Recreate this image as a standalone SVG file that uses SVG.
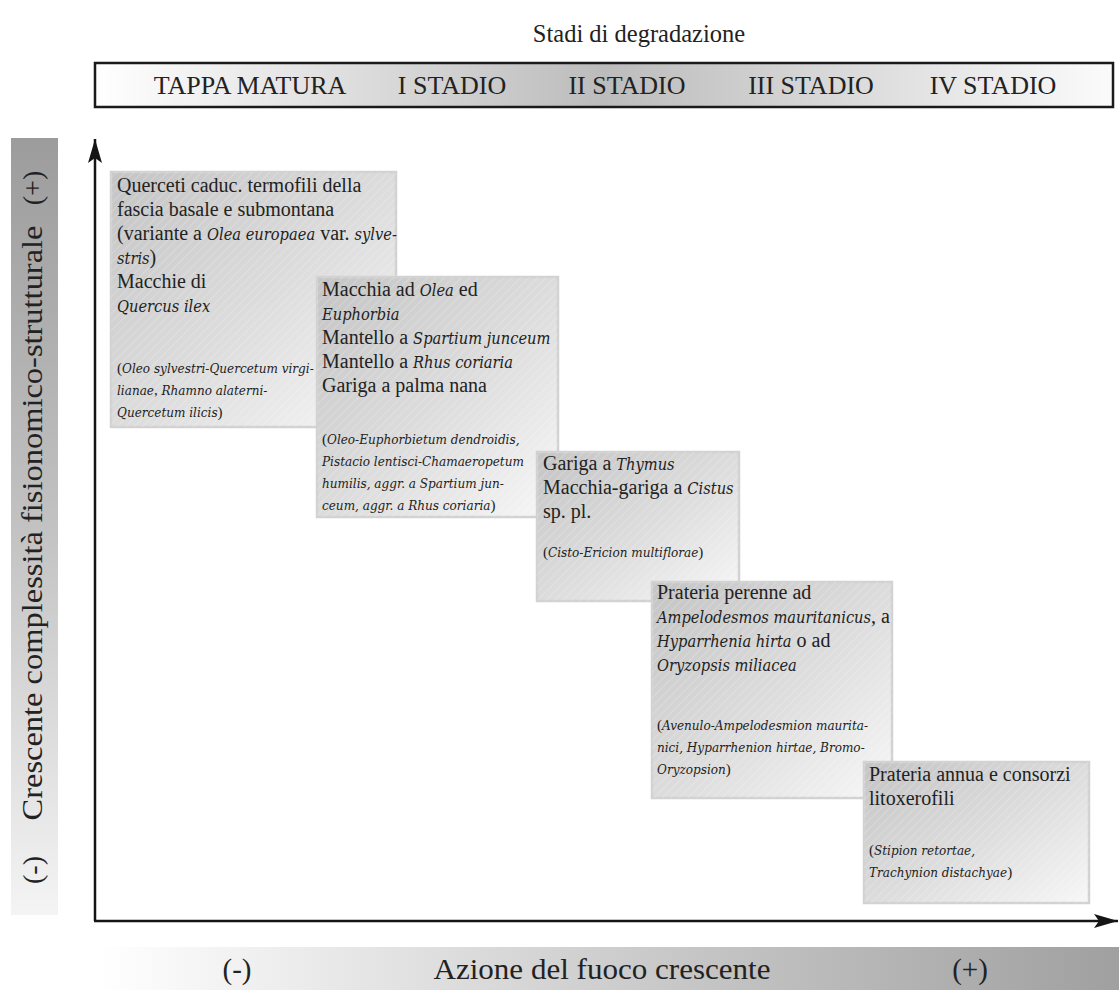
<svg xmlns="http://www.w3.org/2000/svg" width="1119" height="990" viewBox="0 0 1119 990">
<defs>
<style>
text{font-family:"Liberation Serif","Times New Roman",serif;fill:#222}
.t{font-size:20px}
.s{font-size:15px}
.i{font-style:italic;font-family:"DejaVu Serif Condensed","DejaVu Serif",serif}
.t .i,.t.i{font-size:16.3px}
.s .i,.s.i{font-size:13.4px}
.hd{font-size:26px}
.box{fill:url(#boxg);stroke:#d2d2d2;stroke-width:2.5}
.hatch{fill:url(#hatch)}
.axis{stroke:#151515;stroke-width:2.5;fill:none}
</style>
<linearGradient id="boxg" x1="0" y1="0" x2="1" y2="1">
<stop offset="0" stop-color="#c4c4c4"/>
<stop offset="0.55" stop-color="#dedede"/>
<stop offset="1" stop-color="#f7f7f7"/>
</linearGradient>
<pattern id="hatch" width="6" height="6" patternUnits="userSpaceOnUse" patternTransform="rotate(45)">
<rect x="0" y="0" width="1" height="6" fill="#ffffff" opacity="0.2"/>
</pattern>
<linearGradient id="headg" x1="0" y1="0" x2="1" y2="0">
<stop offset="0" stop-color="#ffffff"/>
<stop offset="0.5" stop-color="#bcbcbc"/>
<stop offset="1" stop-color="#fbfbfb"/>
</linearGradient>
<linearGradient id="leftg" x1="0" y1="0" x2="0" y2="1">
<stop offset="0" stop-color="#9c9c9c"/>
<stop offset="0.5" stop-color="#c2c2c2"/>
<stop offset="1" stop-color="#f4f4f4"/>
</linearGradient>
<linearGradient id="botg" x1="0" y1="0" x2="1" y2="0">
<stop offset="0" stop-color="#ffffff"/>
<stop offset="0.15" stop-color="#f0f0f0"/>
<stop offset="0.6" stop-color="#c4c4c4"/>
<stop offset="1" stop-color="#a0a0a0"/>
</linearGradient>
<marker id="arr" markerWidth="24" markerHeight="14" refX="24" refY="7" orient="auto" markerUnits="userSpaceOnUse">
<path d="M0,0 L24,7 L0,14 L5,7 Z" fill="#151515"/>
</marker>
</defs>

<g id="title">
<text x="639" y="42" text-anchor="middle" style="font-size:24.5px">Stadi di degradazione</text>
</g>

<g id="stages">
<rect x="95" y="63" width="1018" height="44" fill="url(#headg)" stroke="#1a1a1a" stroke-width="2.5"/>
<text class="hd" x="250" y="94" text-anchor="middle">TAPPA MATURA</text>
<text class="hd" x="452" y="94" text-anchor="middle">I STADIO</text>
<text class="hd" x="627" y="94" text-anchor="middle">II STADIO</text>
<text class="hd" x="811" y="94" text-anchor="middle">III STADIO</text>
<text class="hd" x="993" y="94" text-anchor="middle">IV STADIO</text>
</g>

<g id="y-label">
<rect x="11" y="138" width="47" height="777" fill="url(#leftg)"/>
<text transform="translate(42,188) rotate(-90)" style="font-size:28px" text-anchor="middle">(+)</text>
<text transform="translate(42,523) rotate(-90)" style="font-size:30px" text-anchor="middle" textLength="595" lengthAdjust="spacingAndGlyphs">Crescente complessità fisionomico-strutturale</text>
<text transform="translate(42,870) rotate(-90)" style="font-size:28px" text-anchor="middle">(-)</text>
</g>

<g id="x-label">
<rect x="100" y="947" width="1019" height="43" fill="url(#botg)"/>
<text x="237" y="979" style="font-size:29px" text-anchor="middle">(-)</text>
<text x="602" y="979" style="font-size:29px" text-anchor="middle" textLength="337" lengthAdjust="spacingAndGlyphs">Azione del fuoco crescente</text>
<text x="970" y="979" style="font-size:29px" text-anchor="middle">(+)</text>
</g>

<g id="connectors">
<line class="axis" x1="95" y1="921" x2="95" y2="139" marker-end="url(#arr)"/>
<line class="axis" x1="94" y1="921" x2="1118" y2="921" marker-end="url(#arr)"/>
</g>

<g id="node-tappa-matura">
<rect class="box" x="111" y="172" width="285" height="255"/>
<rect class="hatch" x="111" y="172" width="285" height="255"/>
<text class="t" x="117" y="192">Querceti caduc. termofili della</text>
<text class="t" x="117" y="216">fascia basale e submontana</text>
<text class="t" x="117" y="240">(variante a <tspan class="i">Olea europaea</tspan> var. <tspan class="i">sylve-</tspan></text>
<text class="t" x="117" y="264"><tspan class="i">stris</tspan>)</text>
<text class="t" x="117" y="288">Macchie di</text>
<text class="t i" x="117" y="312">Quercus ilex</text>
<text class="s" x="117" y="373">(<tspan class="i">Oleo sylvestri-Quercetum virgi-</tspan></text>
<text class="s" x="117" y="395"><tspan class="i">lianae</tspan>, <tspan class="i">Rhamno alaterni-</tspan></text>
<text class="s" x="117" y="417"><tspan class="i">Quercetum ilicis</tspan>)</text>
</g>

<g id="node-stadio-1">
<rect class="box" x="317" y="277" width="241" height="240"/>
<rect class="hatch" x="317" y="277" width="241" height="240"/>
<text class="t" x="322" y="296">Macchia ad <tspan class="i">Olea</tspan> ed</text>
<text class="t i" x="322" y="320">Euphorbia</text>
<text class="t" x="322" y="344">Mantello a <tspan class="i">Spartium junceum</tspan></text>
<text class="t" x="322" y="368">Mantello a <tspan class="i">Rhus coriaria</tspan></text>
<text class="t" x="322" y="392">Gariga a palma nana</text>
<text class="s" x="322" y="444">(<tspan class="i">Oleo-Euphorbietum dendroidis,</tspan></text>
<text class="s i" x="322" y="466">Pistacio lentisci-Chamaeropetum</text>
<text class="s i" x="322" y="488">humilis, aggr. a Spartium jun-</text>
<text class="s" x="322" y="510"><tspan class="i">ceum, aggr. a Rhus coriaria</tspan>)</text>
</g>

<g id="node-stadio-2">
<rect class="box" x="537" y="452" width="202" height="149"/>
<rect class="hatch" x="537" y="452" width="202" height="149"/>
<text class="t" x="543" y="470">Gariga a <tspan class="i">Thymus</tspan></text>
<text class="t" x="543" y="494">Macchia-gariga a <tspan class="i">Cistus</tspan></text>
<text class="t" x="543" y="518">sp. pl.</text>
<text class="s" x="543" y="557">(<tspan class="i">Cisto-Ericion multiflorae</tspan>)</text>
</g>

<g id="node-stadio-3">
<rect class="box" x="652" y="582" width="240" height="216"/>
<rect class="hatch" x="652" y="582" width="240" height="216"/>
<text class="t" x="657" y="599">Prateria perenne ad</text>
<text class="t" x="657" y="623"><tspan class="i">Ampelodesmos mauritanicus</tspan>, a</text>
<text class="t" x="657" y="647"><tspan class="i">Hyparrhenia hirta</tspan> o ad</text>
<text class="t i" x="657" y="671">Oryzopsis miliacea</text>
<text class="s" x="657" y="730">(<tspan class="i">Avenulo-Ampelodesmion maurita-</tspan></text>
<text class="s i" x="657" y="752">nici, Hyparrhenion hirtae, Bromo-</text>
<text class="s" x="657" y="774"><tspan class="i">Oryzopsion</tspan>)</text>
</g>

<g id="node-stadio-4">
<rect class="box" x="864" y="762" width="225" height="141"/>
<rect class="hatch" x="864" y="762" width="225" height="141"/>
<text class="t" x="869" y="781">Prateria annua e consorzi</text>
<text class="t" x="869" y="805">litoxerofili</text>
<text class="s" x="869" y="855">(<tspan class="i">Stipion retortae,</tspan></text>
<text class="s" x="869" y="877"><tspan class="i">Trachynion distachyae</tspan>)</text>
</g>
</svg>
